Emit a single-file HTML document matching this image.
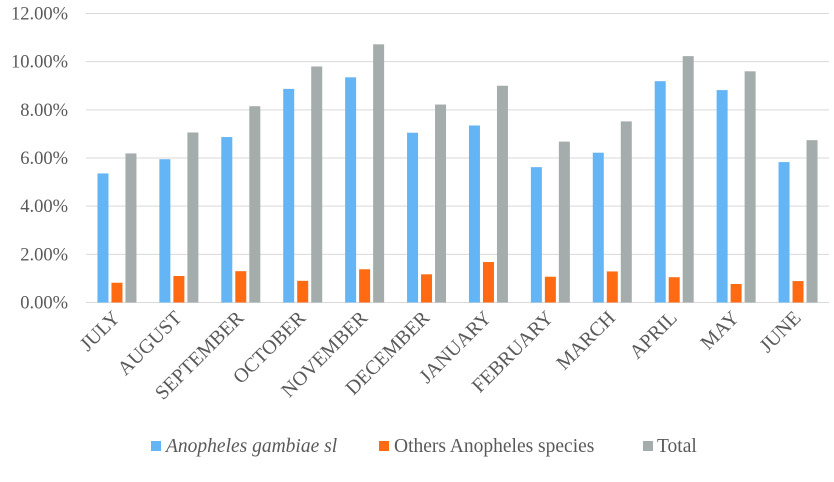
<!DOCTYPE html>
<html><head><meta charset="utf-8"><style>
body{margin:0;background:#fff;}
text{font-family:"Liberation Serif","Times New Roman",Times,"Tinos","DejaVu Serif",serif;fill:#595959;}
</style></head><body>
<svg id="chart" width="834" height="482" style="position:absolute;left:0;top:0"></svg>
<script>
const categories=["JULY","AUGUST","SEPTEMBER","OCTOBER","NOVEMBER","DECEMBER","JANUARY","FEBRUARY","MARCH","APRIL","MAY","JUNE"];
const gambiae=[5.36,5.95,6.87,8.87,9.35,7.05,7.35,5.62,6.22,9.19,8.82,5.83];
const others=[0.82,1.1,1.3,0.9,1.38,1.17,1.68,1.07,1.29,1.05,0.77,0.89];
const total=[6.19,7.06,8.15,9.8,10.72,8.22,9.0,6.68,7.52,10.23,9.6,6.74];
const yTicks=[0,2,4,6,8,10,12];
const NS="http://www.w3.org/2000/svg";
const svg=document.getElementById('chart');
const x0=86,x1=829,yTop=13.5,yBot=302.5;
const bw=(x1-x0)/categories.length;
function y(v){return yBot-(v/12)*(yBot-yTop);}
function cx(i){return x0+bw*(i+0.5);}
function mk(t,a){const e=document.createElementNS(NS,t);for(const k in a)e.setAttribute(k,a[k]);svg.appendChild(e);return e;}
yTicks.forEach(t=>{
  const l=mk('line',{x1:x0,x2:x1,y1:y(t),y2:y(t),stroke:'#d9d9d9','stroke-width':1});
  
  
  const tx=mk('text',{x:68,y:y(t)+6,'text-anchor':'end','font-size':18.5});
  tx.textContent=t.toFixed(2)+'%';
  
  
});
const series=[[gambiae,'#64b5f6',-14,'bar-gambiae'],[others,'#ff6a13',0,'bar-others'],[total,'#a5acac',14,'bar-total']];
categories.forEach((c,i)=>{
  series.forEach(s=>{
    const v=s[0][i];
    const r=mk('rect',{x:cx(i)+s[2]-5.5,y:y(v),width:11,height:yBot-y(v),fill:s[1]});
    
    
  });
  const t=mk('text',{x:cx(i)+4,y:319,'text-anchor':'end','font-size':20,transform:`rotate(-45 ${cx(i)+4} 319)`});
  t.textContent=c;
  
  
});
</script>
<svg width="834" height="40" style="position:absolute;left:0;top:428px">
<g><rect x="151" y="13" width="10" height="10" fill="#64b5f6"/><text x="166" y="24" font-size="19.5" font-style="italic">Anopheles gambiae sl</text></g>
<g><rect x="379" y="13" width="10" height="10" fill="#ff6a13"/><text x="394" y="24" font-size="19.5">Others Anopheles species</text></g>
<g><rect x="643" y="13" width="10" height="10" fill="#a5acac"/><text x="657" y="24" font-size="19.5">Total</text></g>
</svg>
</body></html>
